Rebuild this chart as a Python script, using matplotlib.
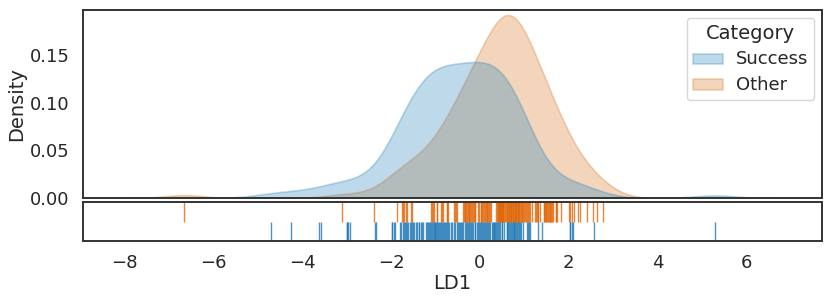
import numpy as np
import pandas as pd
import matplotlib
matplotlib.use("Agg")
import matplotlib.pyplot as plt
import seaborn as sns

success = [-4.71, -4.26, -3.62, -3.59, -3.00, -2.99, -2.96, -2.93, -2.36, -2.35,
           -1.99, -1.98, -1.93, -1.92,
           -1.80, -1.77, -1.74, -1.72, -1.69, -1.67, -1.64, -1.61, -1.58, -1.56, -1.53, -1.51,
           -1.48, -1.43, -1.41, -1.38, -1.36, -1.33, -1.31, -1.29,
           -1.22, -1.19, -1.17, -1.15, -1.13, -1.10, -1.08, -1.06, -1.04, -1.02,
           -1.00, -0.98, -0.96, -0.95, -0.92, -0.90, -0.88, -0.86, -0.84, -0.81,
           -0.79, -0.77, -0.74, -0.72, -0.69, -0.65, -0.62, -0.58, -0.55, -0.52,
           -0.49, -0.47, -0.45, -0.43, -0.41, -0.37, -0.34, -0.31, -0.29, -0.27,
           -0.24, -0.22, -0.20, -0.17, -0.15, -0.12, -0.10, -0.07, -0.05, -0.02,
           0.00, 0.02, 0.05, 0.07, 0.09, 0.12, 0.14, 0.16, 0.19, 0.21,
           0.23, 0.27, 0.29, 0.31, 0.32, 0.34, 0.37, 0.39, 0.41, 0.43, 0.46, 0.49,
           0.50, 0.55, 0.61, 0.62, 0.63, 0.65, 0.68, 0.70, 0.72, 0.74, 0.76, 0.77,
           0.79, 0.82, 0.84, 0.87, 0.88, 0.90, 0.93,
           0.98, 1.06, 1.08, 1.10, 1.13, 1.31, 1.40,
           2.03, 2.04, 2.08, 2.09, 2.57, 5.29]
other = [-6.66, -3.11, -2.39,
         -1.87, -1.76, -1.73, -1.71, -1.67, -1.64, -1.55,
         -1.54, -1.09, -1.08, -1.06, -1.04,
         -0.97, -0.96, -0.87, -0.86, -0.84, -0.74, -0.73, -0.71, -0.58, -0.57, -0.53, -0.52,
         -0.38, -0.36, -0.34, -0.33, -0.31, -0.29, -0.27, -0.25, -0.24, -0.22,
         -0.20, -0.18, -0.16, -0.14, -0.12, -0.11, -0.05, -0.02,
         0.02, 0.03, 0.05, 0.07, 0.10, 0.11, 0.13, 0.15, 0.17, 0.19, 0.21, 0.23, 0.24,
         0.36, 0.38, 0.40, 0.41, 0.43, 0.44, 0.45, 0.46, 0.47, 0.48, 0.49, 0.50, 0.50,
         0.52, 0.53, 0.55, 0.57, 0.58, 0.61, 0.62, 0.63, 0.65, 0.66, 0.67, 0.69, 0.70,
         0.71, 0.72, 0.74, 0.75, 0.77, 0.78, 0.79, 0.81, 0.82, 0.84,
         0.85, 0.86, 0.88, 0.89, 0.91, 0.92, 0.94, 0.96, 0.98,
         1.00, 1.01, 1.05, 1.06, 1.09, 1.11, 1.14,
         1.17, 1.24, 1.26, 1.28, 1.30, 1.31, 1.35,
         1.44, 1.45, 1.47, 1.48, 1.49,
         1.51, 1.53, 1.55, 1.57, 1.58, 1.60, 1.62, 1.64, 1.71, 1.72, 1.74, 1.82,
         2.00, 2.04, 2.08, 2.11, 2.21, 2.25, 2.41, 2.54, 2.63, 2.77]
categories = ["Success", "Other"]
x_ticks = [-8, -6, -4, -2, 0, 2, 4, 6]
y_ticks = [0.00, 0.05, 0.10, 0.15]

df = pd.DataFrame({
    "LD1": success + other,
    "Category": ["Success"] * len(success) + ["Other"] * len(other),
})

sns.set_theme(style="white")
plt.rcParams["font.family"] = ["DejaVu Sans"]
plt.rcParams["axes.edgecolor"] = "#333333"
plt.rcParams["axes.linewidth"] = 1.4

fill_colors = {"Success": "#2684bc", "Other": "#d77620"}
rug_colors = {"Success": "#1f77b4", "Other": "#e0670a"}

fig = plt.figure(figsize=(8.3, 3.02), dpi=100)
ax = fig.add_axes([0.1, 0.344, 0.890, 0.623])
axr = fig.add_axes([0.1, 0.202, 0.890, 0.129], sharex=ax)

sns.kdeplot(data=df, x="LD1", hue="Category", hue_order=categories,
            palette=fill_colors, fill=True, alpha=0.3, linewidth=1.2,
            common_norm=True, ax=ax)
for coll in ax.collections:
    fc = coll.get_facecolor()
    coll.set_edgecolor(fc)
ax.set_xlim(-8.94, 7.7)
ax.set_ylim(0, 0.197)
ax.set_yticks(y_ticks)
ax.set_yticklabels([f"{v:.2f}" for v in y_ticks], fontsize=13)
ax.set_ylabel("Density", fontsize=14, labelpad=3)
ax.set_xlabel("")
ax.tick_params(axis="x", labelbottom=False, bottom=False)
leg = ax.get_legend()
leg.set_title("Category", prop={"size": 14})
for t in leg.get_texts():
    t.set_fontsize(13)
for h in leg.legend_handles:
    fc = h.get_facecolor()
    h.set_edgecolor(fc)
leg.set_loc("upper right")

axr.vlines(other, 0.5, 1.0, color=rug_colors["Other"], alpha=0.8, linewidth=1,
           transform=axr.get_xaxis_transform())
axr.vlines(success, 0.0, 0.5, color=rug_colors["Success"], alpha=0.8, linewidth=1,
           transform=axr.get_xaxis_transform())
axr.set_ylim(0, 1)
axr.set_yticks([])
axr.set_xticks(x_ticks)
axr.set_xticklabels([f"\u2212{abs(v)}" if v < 0 else str(v) for v in x_ticks], fontsize=13)
axr.set_xlabel("LD1", fontsize=14, labelpad=1)

fig.savefig("out.png", dpi=100)
